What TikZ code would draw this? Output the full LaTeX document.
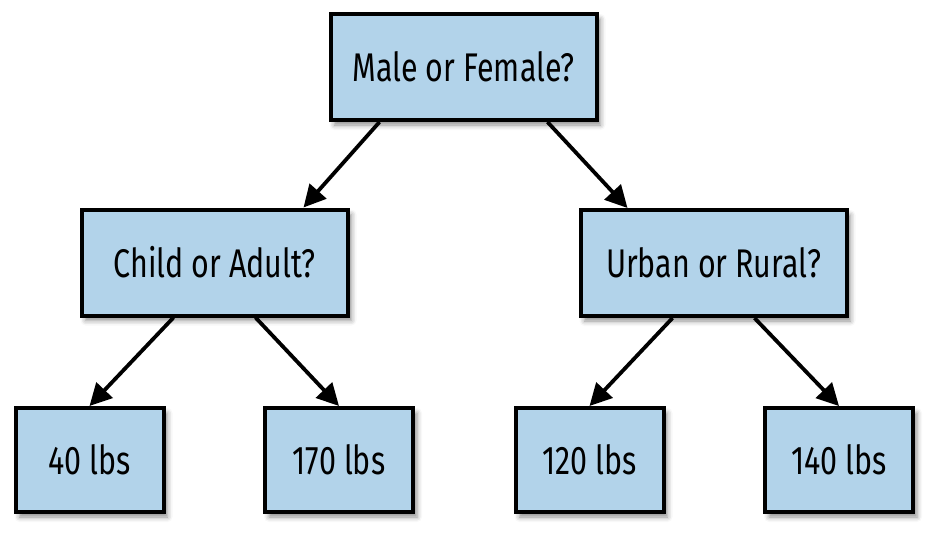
\documentclass[tikz,border=0pt]{standalone}
\usepackage{fontspec}
\setmainfont[FakeStretch=0.76]{Fira Sans}
\usetikzlibrary{arrows.meta,shadows.blur}
\definecolor{boxblue}{HTML}{B2D3EA}
\begin{document}
\begin{tikzpicture}[x=1pt,y=-1pt,
  box/.style={draw=black,line width=4pt,fill=boxblue,
    blur shadow={shadow xshift=4pt,shadow yshift=-5pt,shadow blur radius=5pt,shadow opacity=45},
    font=\fontsize{40}{46}\selectfont,inner sep=0pt,text=black},
  bigbox/.style={box,minimum width=266pt,minimum height=106pt},
  leafbox/.style={box,minimum width=148pt,minimum height=104pt},
  link/.style={line width=3.8pt,-{Triangle[length=22pt,width=22pt]}}]
\useasboundingbox (0,0) rectangle (941,542);
\node[bigbox] (top) at (463.5,67) {Male or Female?};
\node[bigbox] (child) at (214.5,262.5) {Child or Adult?};
\node[bigbox] (urban) at (713.5,263) {Urban or Rural?};
\node[leafbox] (n40) at (89.5,460) {40 lbs};
\node[leafbox] (n170) at (339,460) {170 lbs};
\node[leafbox] (n120) at (589.5,460) {120 lbs};
\node[leafbox] (n140) at (839,460) {140 lbs};
\draw[link] ([xshift=-84pt]top.south) -- ([xshift=89pt]child.north);
\draw[link] ([xshift=84pt]top.south) -- ([xshift=-86pt]urban.north);
\draw[link] ([xshift=-41pt]child.south) -- (n40.north);
\draw[link] ([xshift=41pt]child.south) -- (n170.north);
\draw[link] ([xshift=-41pt]urban.south) -- (n120.north);
\draw[link] ([xshift=41pt]urban.south) -- (n140.north);
\end{tikzpicture}
\end{document}
